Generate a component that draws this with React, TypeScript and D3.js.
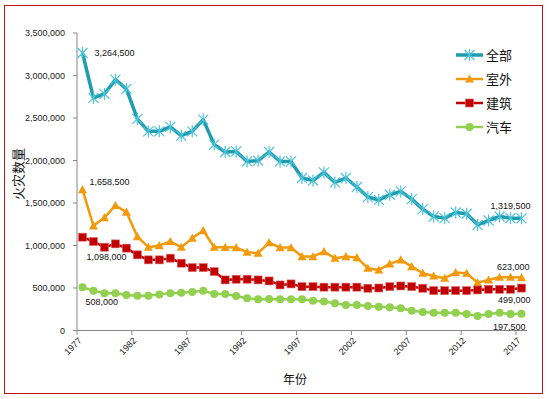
import * as d3 from "d3";

const years = d3.range(1977, 2018).map(String);
const tickYears = ["1977", "1982", "1987", "1992", "1997", "2002", "2007", "2012", "2017"];
const yTicks = [0, 500000, 1000000, 1500000, 2000000, 2500000, 3000000, 3500000];

const allFires = [
  3264500, 2736000, 2783000, 2952000, 2842000, 2489000, 2343000, 2343000, 2395000, 2292000,
  2343000, 2481000, 2187000, 2100000, 2107000, 1989000, 1998000, 2100000, 1989000, 1989000,
  1794000, 1765000, 1860000, 1742000, 1794000, 1688000, 1570000, 1536000, 1597000, 1636000,
  1546000, 1428000, 1341000, 1322000, 1388000, 1373000, 1243000, 1294000, 1341000, 1322000,
  1319500,
];
const outdoor = [
  1658500, 1232000, 1329000, 1471000, 1393000, 1105000, 980000, 999000, 1047000, 980000,
  1087000, 1176000, 980000, 978000, 976000, 922000, 910000, 1035000, 976000, 976000,
  870000, 870000, 929000, 851000, 870000, 858000, 733000, 713000, 784000, 831000,
  752000, 674000, 642000, 615000, 681000, 674000, 563000, 595000, 627000, 627000,
  623000,
];
const building = [
  1098000, 1047000, 980000, 1019000, 969000, 890000, 831000, 831000, 851000, 792000,
  740000, 740000, 693000, 595000, 603000, 603000, 595000, 583000, 536000, 548000,
  516000, 516000, 510000, 510000, 510000, 510000, 497000, 500000, 516000, 524000,
  516000, 497000, 469000, 469000, 469000, 469000, 477000, 485000, 485000, 485000,
  499000,
];
const vehicle = [
  508000, 469000, 438000, 438000, 418000, 410000, 410000, 425000, 438000, 445000,
  453000, 469000, 430000, 430000, 407000, 379000, 368000, 372000, 368000, 368000,
  368000, 351000, 340000, 321000, 300000, 300000, 289000, 280000, 273000, 262000,
  233000, 218000, 210000, 210000, 210000, 194000, 171000, 194000, 210000, 194000,
  197500,
];

const seriesNames = ["全部", "室外", "建筑", "汽车"];
const seriesColors = ["#1E9DAE", "#F39A0C", "#C00000", "#92D050"];
const markerColors = ["#4CC3DA", "#F39A0C", "#C00000", "#92D050"];
const seriesData = [allFires, outdoor, building, vehicle];
const lineWidths = [3.5, 2.5, 2.5, 2.5];

const FONT = "'Liberation Sans', 'Noto Sans CJK SC', sans-serif";
const CJK = "'Noto Sans CJK SC', sans-serif";

function Marker({ kind, x, y, color }: { kind: number; x: number; y: number; color: string }) {
  if (kind === 0) {
    const s = 5;
    return (
      <g stroke={color} strokeWidth={1.2}>
        <line x1={x - s} y1={y - s} x2={x + s} y2={y + s} />
        <line x1={x - s} y1={y + s} x2={x + s} y2={y - s} />
        <line x1={x} y1={y - s - 1} x2={x} y2={y + s + 1} />
      </g>
    );
  }
  if (kind === 1) {
    const s = 4.5;
    return <path d={`M${x},${y - s}L${x + s},${y + s * 0.8}L${x - s},${y + s * 0.8}Z`} fill={color} />;
  }
  if (kind === 2) {
    return <rect x={x - 4} y={y - 4} width={8} height={8} fill={color} stroke="#E06666" strokeWidth={0.6} />;
  }
  return <circle cx={x} cy={y} r={4} fill={color} />;
}

export default function App() {
  const x = d3.scaleBand<string>().domain(years).range([77, 527]);
  const y = d3.scaleLinear().domain([0, 3500000]).range([330.5, 33]);
  const cx = (yr: string) => (x(yr) as number) + x.bandwidth() / 2;
  const fmt = d3.format(",");

  const line = d3
    .line<number>()
    .x((_, i) => cx(years[i]))
    .y((d) => y(d));

  const first = years[0];
  const last = years[years.length - 1];

  const labels = [
    { v: allFires[0], dx: 12, dy: 0, anchor: "start", yr: first },
    { v: outdoor[0], dx: 7, dy: -8, anchor: "start", yr: first },
    { v: building[0], dx: 4, dy: 20, anchor: "start", yr: first },
    { v: vehicle[0], dx: 3, dy: 15, anchor: "start", yr: first },
    { v: allFires[40], dx: 9, dy: -12, anchor: "end", yr: last },
    { v: outdoor[40], dx: 8, dy: -11, anchor: "end", yr: last },
    { v: building[40], dx: 9, dy: 12, anchor: "end", yr: last },
    { v: vehicle[40], dx: 4, dy: 13, anchor: "end", yr: last },
  ];

  return (
    <svg
      width={549}
      height={399}
      style={{ position: "absolute", left: 0, top: 0, background: "#fff" }}
      fontFamily={FONT}
    >
      <rect x={4.5} y={5.5} width={538} height={388} fill="#fff" stroke="#C0141C" strokeWidth={1} />

      {/* y axis */}
      <line x1={77} y1={33} x2={77} y2={330.5} stroke="#868686" />
      {yTicks.map((t) => (
        <g key={t}>
          <line x1={73} x2={77} y1={y(t)} y2={y(t)} stroke="#868686" />
          <text x={65} y={y(t)} dy="0.35em" textAnchor="end" fontSize={9} fill="#222">
            {fmt(t)}
          </text>
        </g>
      ))}

      {/* x axis */}
      <line x1={77} y1={330.5} x2={527} y2={330.5} stroke="#868686" />
      {tickYears.map((yr) => {
        const tx = x(yr) as number;
        return (
          <g key={yr}>
            <line x1={tx} x2={tx} y1={330.5} y2={335} stroke="#868686" />
            <text
              transform={`translate(${tx + 3},${339}) rotate(-45)`}
              textAnchor="end"
              dy="0.35em"
              fontSize={9}
              fill="#222"
            >
              {yr}
            </text>
          </g>
        );
      })}

      <text x={295} y={380} dy="0.35em" textAnchor="middle" fontSize={12} fontFamily={CJK} fill="#111">
        年份
      </text>
      <text
        transform="translate(18,174) rotate(-90)"
        textAnchor="middle"
        dy="0.35em"
        fontSize={13}
        fontFamily={CJK}
        fill="#111"
      >
        火灾数量
      </text>

      {/* series */}
      {seriesData.map((s, k) => (
        <g key={seriesNames[k]}>
          <path d={line(s) || ""} fill="none" stroke={seriesColors[k]} strokeWidth={lineWidths[k]} strokeLinejoin="round" />
          {s.map((v, i) => (
            <Marker key={i} kind={k} x={cx(years[i])} y={y(v)} color={markerColors[k]} />
          ))}
        </g>
      ))}

      {/* data labels */}
      {labels.map((l, i) => (
        <text
          key={i}
          x={cx(l.yr) + l.dx}
          y={y(l.v) + l.dy}
          dy="0.35em"
          textAnchor={l.anchor as any}
          fontSize={9}
          fill="#111"
        >
          {fmt(l.v)}
        </text>
      ))}

      {/* legend */}
      {seriesNames.map((n, k) => {
        const ly = 55 + k * 24;
        return (
          <g key={n}>
            <line x1={456} x2={483} y1={ly} y2={ly} stroke={seriesColors[k]} strokeWidth={lineWidths[k]} />
            <Marker kind={k} x={469.5} y={ly} color={markerColors[k]} />
            <text x={486} y={ly} dy="0.35em" fontSize={13} fontFamily={CJK} fill="#111">
              {n}
            </text>
          </g>
        );
      })}
    </svg>
  );
}
